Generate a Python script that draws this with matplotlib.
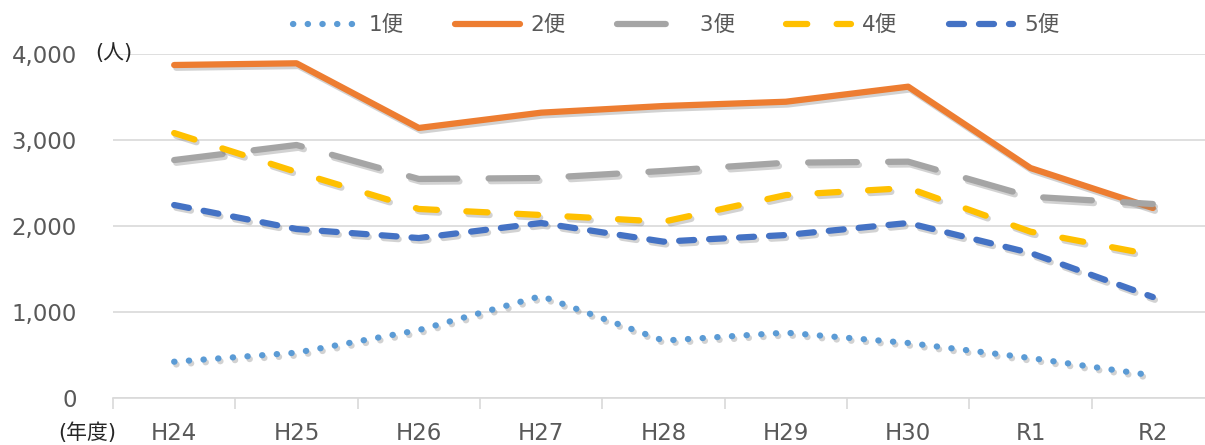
import matplotlib
matplotlib.use("Agg")
import matplotlib.pyplot as plt
import matplotlib.patheffects as pe
from matplotlib.ticker import FixedLocator, FuncFormatter

categories = ["H24", "H25", "H26", "H27", "H28", "H29", "H30", "R1", "R2"]
bin1 = [422, 527, 790, 1186, 667, 760, 640, 465, 262]
bin2 = [3872, 3892, 3140, 3318, 3395, 3445, 3620, 2674, 2209]
bin3 = [2767, 2942, 2547, 2558, 2640, 2736, 2748, 2341, 2256]
bin4 = [3081, 2628, 2198, 2128, 2050, 2360, 2442, 1934, 1663]
bin5 = [2244, 1965, 1860, 2035, 1818, 1895, 2035, 1686, 1174]
series_names = ["1便", "2便", " 3便", "4便", "5便"]
y_ticks = [0, 1000, 2000, 3000, 4000]

FONT = ["DejaVu Sans", "Noto Sans CJK JP"]
plt.rcParams["font.family"] = FONT

fig = plt.figure(figsize=(12.05, 4.45), dpi=100)
W, H = 1205, 445
ax = fig.add_axes([113 / W, 1 - 398 / H, (1214 - 113) / W, (398 - 54) / H])

x = list(range(len(categories)))
lw = 4.5
styles = [
    dict(color="#5B9BD5", linestyle=(0, (0.05, 2.3)), lw=lw),
    dict(color="#ED7D31", linestyle="-", lw=lw),
    dict(color="#A5A5A5", linestyle=(0, (7.8, 5.0)), lw=lw),
    dict(color="#FFC000", linestyle=(0, (3.4, 4.7)), lw=lw),
    dict(color="#4472C4", linestyle=(0, (2.4, 2.4)), lw=lw),
]
data = [bin1, bin2, bin3, bin4, bin5]
shadow = [pe.SimpleLineShadow(offset=(1.5, -2), shadow_color="#808080", alpha=0.35), pe.Normal()]
for vals, name, st in zip(data, series_names, styles):
    ax.plot(x, vals, label=name, solid_capstyle="round", dash_capstyle="round",
            solid_joinstyle="round", path_effects=shadow, zorder=3, **st)

ax.set_xlim(-0.5, 8.5)
ax.set_ylim(0, 4000)
ax.yaxis.set_major_locator(FixedLocator(y_ticks))
ax.yaxis.set_major_formatter(FuncFormatter(lambda v, p: f"{int(v):,}"))
ax.grid(axis="y", color="#D9D9D9", lw=1.2, zorder=0)
for s in ["top", "right", "left"]:
    ax.spines[s].set_visible(False)
ax.spines["bottom"].set_color("#D9D9D9")
ax.spines["bottom"].set_linewidth(1.2)
ax.spines["bottom"].set_zorder(1)

ax.set_xticks(x)
ax.set_xticklabels(categories)
ax.set_xticks([i - 0.5 for i in range(len(categories) + 1)], minor=True)
ax.tick_params(axis="x", which="major", length=0, pad=17, labelsize=16.5, labelcolor="#595959")
ax.tick_params(axis="x", which="minor", length=8, width=1.2, color="#D9D9D9")
ax.tick_params(axis="y", length=0, pad=26, labelsize=16.5, labelcolor="#595959")

fig.text(95 / W, 1 - 53 / H, "(人)", fontsize=15, color="#262626", va="center", ha="left", family=FONT)
fig.text(58 / W, 1 - 433 / H, "(年度)", fontsize=15, color="#262626", va="center", ha="left", family=FONT)

leg = fig.legend(loc="center", bbox_to_anchor=(676 / W, 1 - 25 / H), ncol=5, frameon=False,
                 fontsize=15.5, handlelength=3.0, handletextpad=0.5, columnspacing=2.4)
for t in leg.get_texts():
    t.set_color("#595959")
for h in leg.get_lines():
    h.set_path_effects([])

fig.savefig("out.png", dpi=100)
